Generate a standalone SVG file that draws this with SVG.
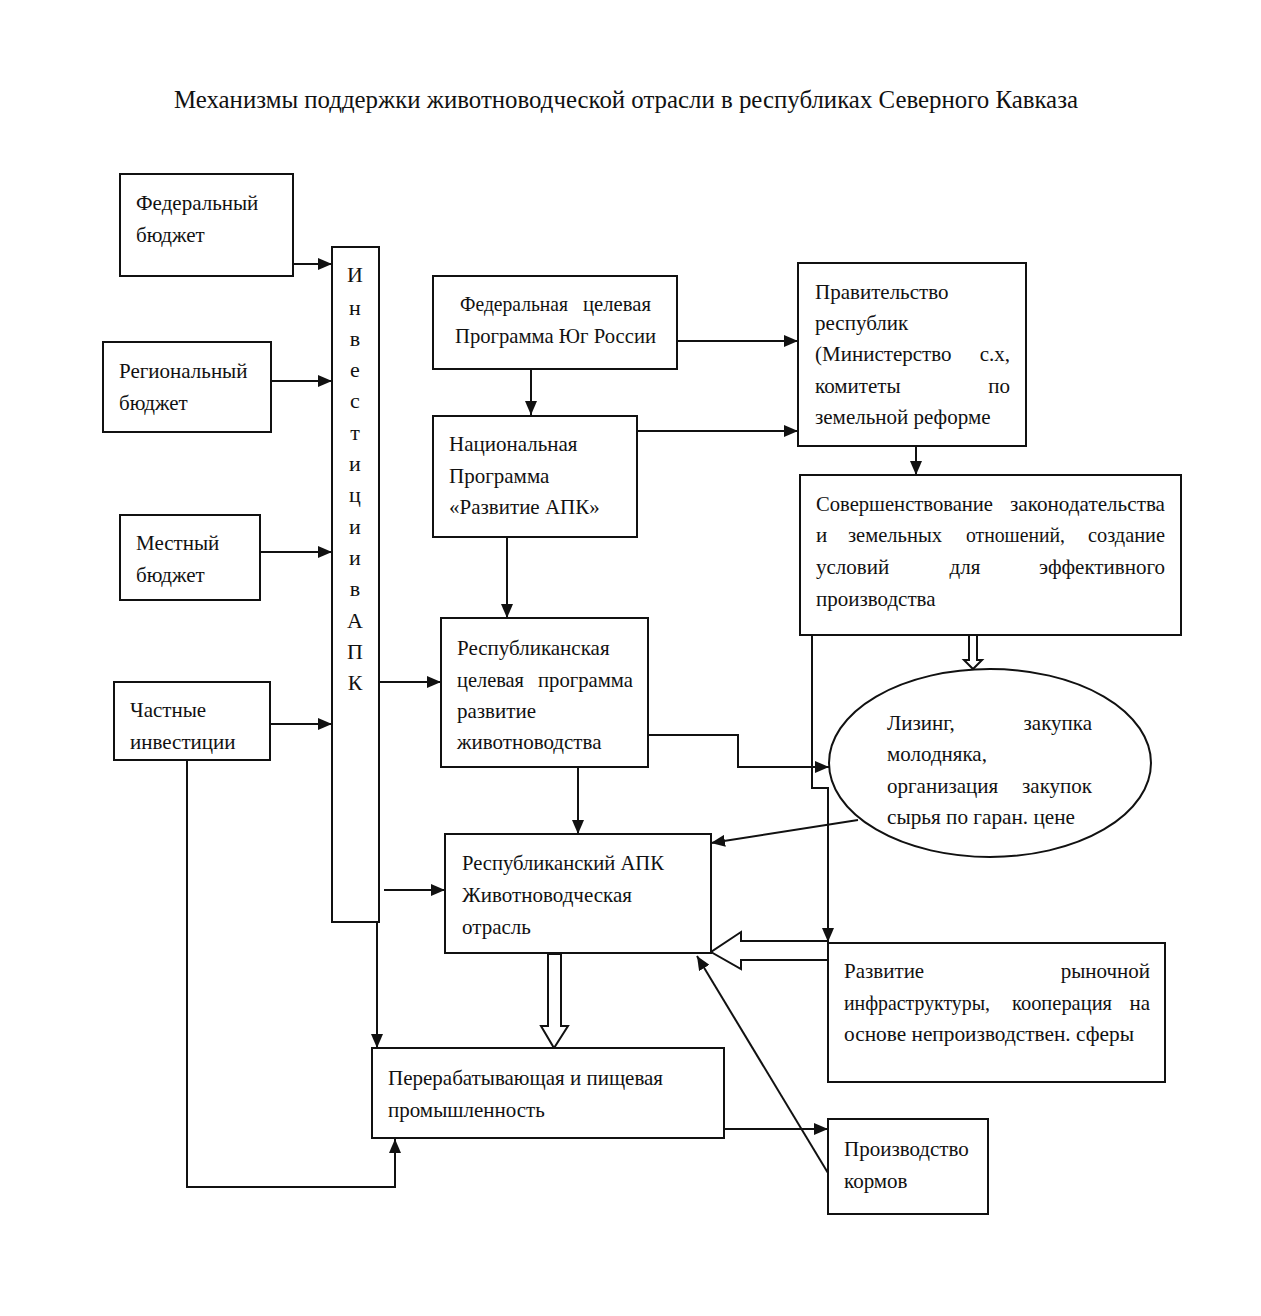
<svg xmlns="http://www.w3.org/2000/svg" width="1261" height="1316" viewBox="0 0 1261 1316">
<defs>
<style>
.box{fill:#fff;stroke:#111;stroke-width:2}
.ln{fill:none;stroke:#111;stroke-width:2}
.hol{fill:#fff;stroke:#111;stroke-width:2;stroke-linejoin:miter}
text{font-family:"Liberation Serif","Times New Roman",serif;font-size:21px;fill:#111}
.t{font-size:25px}
.v{font-size:22px}
.e{text-anchor:end}
.m{text-anchor:middle}
</style>
<marker id="ah" viewBox="0 0 14 12" refX="14" refY="6" markerWidth="14" markerHeight="12" markerUnits="userSpaceOnUse" orient="auto">
<path d="M0,0 L14,6 L0,12 z" fill="#111"/>
</marker>
</defs>
<rect width="1261" height="1316" fill="#fff"/>
<text class="t m" x="626" y="108" textLength="904" lengthAdjust="spacingAndGlyphs">Механизмы поддержки животноводческой отрасли в республиках Северного Кавказа</text>

<g id="connectors">
<line class="ln" x1="293" y1="264" x2="332" y2="264" marker-end="url(#ah)"/>
<line class="ln" x1="271" y1="381" x2="332" y2="381" marker-end="url(#ah)"/>
<line class="ln" x1="260" y1="552" x2="332" y2="552" marker-end="url(#ah)"/>
<line class="ln" x1="270" y1="724" x2="332" y2="724" marker-end="url(#ah)"/>
<line class="ln" x1="379" y1="682" x2="441" y2="682" marker-end="url(#ah)"/>
<line class="ln" x1="384" y1="890" x2="445" y2="890" marker-end="url(#ah)"/>
<line class="ln" x1="377" y1="922" x2="377" y2="1048" marker-end="url(#ah)"/>
<polyline class="ln" points="187,760 187,1187 395,1187 395,1139" marker-end="url(#ah)"/>
<line class="ln" x1="531" y1="369" x2="531" y2="415" marker-end="url(#ah)"/>
<line class="ln" x1="677" y1="341" x2="798" y2="341" marker-end="url(#ah)"/>
<line class="ln" x1="637" y1="431" x2="798" y2="431" marker-end="url(#ah)"/>
<line class="ln" x1="916" y1="446" x2="916" y2="475" marker-end="url(#ah)"/>
<line class="ln" x1="507" y1="537" x2="507" y2="618" marker-end="url(#ah)"/>
<line class="ln" x1="578" y1="767" x2="578" y2="834" marker-end="url(#ah)"/>
<polyline class="ln" points="648,735 738,735 738,767 829,767" marker-end="url(#ah)"/>
<polyline class="ln" points="812,635 812,788 828,788 828,942" marker-end="url(#ah)"/>
<line class="ln" x1="858" y1="820" x2="711" y2="843" marker-end="url(#ah)"/>
<line class="ln" x1="828" y1="1173" x2="697" y2="956" marker-end="url(#ah)"/>
<line class="ln" x1="724" y1="1129" x2="828" y2="1129" marker-end="url(#ah)"/>
<polygon class="hol" points="969,635 977,635 977,660 982,660 973,669 964,660 969,660"/>
<polygon class="hol" points="828,941 741,941 741,932 711,952 741,969 741,960 828,960"/>
<polygon class="hol" points="548,954 561,954 561,1026 568,1026 554,1048 541,1026 548,1026"/>
</g>

<g id="n-fed">
<rect class="box" x="120" y="174" width="173" height="102"/>
<text x="136" y="210">Федеральный</text>
<text x="136" y="242">бюджет</text>
</g>
<g id="n-reg">
<rect class="box" x="103" y="342" width="168" height="90"/>
<text x="119" y="378">Региональный</text>
<text x="119" y="410">бюджет</text>
</g>
<g id="n-mest">
<rect class="box" x="120" y="515" width="140" height="85"/>
<text x="136" y="550">Местный</text>
<text x="136" y="582">бюджет</text>
</g>
<g id="n-chast">
<rect class="box" x="114" y="682" width="156" height="78"/>
<text x="130" y="717">Частные</text>
<text x="130" y="749">инвестиции</text>
</g>
<g id="n-invest">
<rect class="box" x="332" y="247" width="47" height="675"/>
<text class="m v" x="355" y="282">И</text>
<text class="m v" x="355" y="315">н</text>
<text class="m v" x="355" y="346">в</text>
<text class="m v" x="355" y="377">е</text>
<text class="m v" x="355" y="408">с</text>
<text class="m v" x="355" y="440">т</text>
<text class="m v" x="355" y="471">и</text>
<text class="m v" x="355" y="502">ц</text>
<text class="m v" x="355" y="534">и</text>
<text class="m v" x="355" y="565">и</text>
<text class="m v" x="355" y="596">в</text>
<text class="m v" x="355" y="628">А</text>
<text class="m v" x="355" y="659">П</text>
<text class="m v" x="355" y="690">К</text>
</g>
<g id="n-fcp">
<rect class="box" x="433" y="276" width="244" height="93"/>
<text x="460" y="311" textLength="108" lengthAdjust="spacingAndGlyphs">Федеральная</text>
<text x="583" y="311" textLength="68" lengthAdjust="spacingAndGlyphs">целевая</text>
<text x="455" y="343" textLength="201" lengthAdjust="spacingAndGlyphs">Программа Юг России</text>
</g>
<g id="n-nac">
<rect class="box" x="433" y="416" width="204" height="121"/>
<text x="449" y="451">Национальная</text>
<text x="449" y="483">Программа</text>
<text x="449" y="514">«Развитие АПК»</text>
</g>
<g id="n-prav">
<rect class="box" x="798" y="263" width="228" height="183"/>
<text x="815" y="299">Правительство</text>
<text x="815" y="330">республик</text>
<text x="815" y="361">(Министерство</text>
<text class="e" x="1010" y="361">с.х,</text>
<text x="815" y="393">комитеты</text>
<text class="e" x="1010" y="393">по</text>
<text x="815" y="424">земельной реформе</text>
</g>
<g id="n-sov">
<rect class="box" x="800" y="475" width="381" height="160"/>
<text x="816" y="511" textLength="177" lengthAdjust="spacingAndGlyphs">Совершенствование</text>
<text x="1010" y="511" textLength="155" lengthAdjust="spacingAndGlyphs">законодательства</text>
<text x="816" y="542">и</text>
<text x="848" y="542" textLength="94" lengthAdjust="spacingAndGlyphs">земельных</text>
<text x="966" y="542" textLength="99" lengthAdjust="spacingAndGlyphs">отношений,</text>
<text x="1088" y="542" textLength="77" lengthAdjust="spacingAndGlyphs">создание</text>
<text x="816" y="574">условий</text>
<text class="m" x="965" y="574">для</text>
<text class="e" x="1165" y="574">эффективного</text>
<text x="816" y="606">производства</text>
</g>
<g id="n-rcp">
<rect class="box" x="441" y="618" width="207" height="149"/>
<text x="457" y="655">Республиканская</text>
<text x="457" y="687" textLength="67" lengthAdjust="spacingAndGlyphs">целевая</text>
<text x="538" y="687" textLength="95" lengthAdjust="spacingAndGlyphs">программа</text>
<text x="457" y="718">развитие</text>
<text x="457" y="749">животноводства</text>
</g>
<g id="n-lizing">
<ellipse class="box" cx="990" cy="763" rx="161" ry="94"/>
<text x="887" y="730">Лизинг,</text>
<text class="e" x="1092" y="730">закупка</text>
<text x="887" y="761">молодняка,</text>
<text x="887" y="793">организация</text>
<text class="e" x="1092" y="793">закупок</text>
<text x="887" y="824" textLength="188" lengthAdjust="spacingAndGlyphs">сырья по гаран. цене</text>
</g>
<g id="n-apk">
<rect class="box" x="445" y="834" width="266" height="119"/>
<text x="462" y="870" textLength="202" lengthAdjust="spacingAndGlyphs">Республиканский АПК</text>
<text x="462" y="902">Животноводческая</text>
<text x="462" y="934">отрасль</text>
</g>
<g id="n-razv">
<rect class="box" x="828" y="943" width="337" height="139"/>
<text x="844" y="978">Развитие</text>
<text class="e" x="1150" y="978">рыночной</text>
<text x="844" y="1010" textLength="146" lengthAdjust="spacingAndGlyphs">инфраструктуры,</text>
<text x="1012" y="1010" textLength="100" lengthAdjust="spacingAndGlyphs">кооперация</text>
<text class="e" x="1150" y="1010">на</text>
<text x="844" y="1041" textLength="290" lengthAdjust="spacingAndGlyphs">основе  непроизводствен.  сферы</text>
</g>
<g id="n-perer">
<rect class="box" x="372" y="1048" width="352" height="90"/>
<text x="388" y="1085" textLength="275" lengthAdjust="spacingAndGlyphs">Перерабатывающая  и пищевая</text>
<text x="388" y="1117">промышленность</text>
</g>
<g id="n-korm">
<rect class="box" x="828" y="1119" width="160" height="95"/>
<text x="844" y="1156">Производство</text>
<text x="844" y="1188">кормов</text>
</g>
</svg>
